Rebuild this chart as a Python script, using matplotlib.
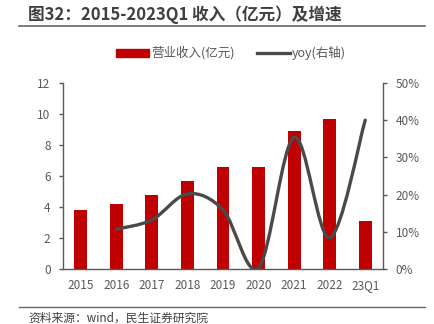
import matplotlib
matplotlib.use("Agg")
import matplotlib.pyplot as plt
import numpy as np
from matplotlib.path import Path
from matplotlib.patches import PathPatch
from matplotlib.lines import Line2D
from matplotlib.patches import Patch

plt.rcParams['font.family'] = ['Noto Sans CJK SC', 'DejaVu Sans']

categories = ["2015", "2016", "2017", "2018", "2019", "2020", "2021", "2022", "23Q1"]
revenue = [3.79, 4.19, 4.75, 5.70, 6.58, 6.60, 8.90, 9.65, 3.12]
yoy = [None, 10.7, 13.2, 20.2, 15.9, 0.3, 35.4, 8.4, 40.0]
left_ticks = [0, 2, 4, 6, 8, 10, 12]
right_ticks = [0, 10, 20, 30, 40, 50]

RED = "#C00000"
LINE = "#4A4A4A"
TXT = "#595959"

fig = plt.figure(figsize=(4.34, 3.24), dpi=100)
ax = fig.add_axes([63/434, 1-269/324, 320/434, 186/324])
ax2 = ax.twinx()

x = np.arange(len(categories))
ax.bar(x, revenue, width=0.36, color=RED, zorder=2)
ax.set_ylim(0, 12)
ax.set_yticks(left_ticks)
ax.set_xlim(-0.5, len(categories)-0.5)
ax.set_xticks(x)
ax.set_xticklabels(categories)
ax2.set_ylim(0, 50)
ax2.set_yticks(right_ticks)
ax2.set_yticklabels([f"{v}%" for v in right_ticks])

for a in (ax, ax2):
    a.spines['top'].set_visible(False)
    for s in a.spines.values():
        s.set_color("#595959")
        s.set_linewidth(1.0)
    a.tick_params(colors=TXT, labelsize=8.5, length=3, width=1.0, color="#595959")
ax.tick_params(axis='x', length=0, pad=7)
ax.spines['right'].set_visible(False)
ax2.spines['left'].set_visible(False)
ax2.spines['bottom'].set_visible(False)
ax.tick_params(axis='y', pad=6)
ax2.tick_params(axis='y', pad=6)

# smoothed line (Excel-like cardinal bezier through data points)
pts = [(xi, yi) for xi, yi in zip(x, yoy) if yi is not None]
P = np.array(pts, dtype=float)
verts = [tuple(P[0])]
codes = [Path.MOVETO]
n = len(P)
t = 1/6
for i in range(n-1):
    p0 = P[i-1] if i > 0 else P[i]
    p1 = P[i]
    p2 = P[i+1]
    p3 = P[i+2] if i+2 < n else P[i+1]
    c1 = p1 + (p2 - p0) * t
    c2 = p2 - (p3 - p1) * t
    verts += [tuple(c1), tuple(c2), tuple(p2)]
    codes += [Path.CURVE4]*3
ax2.add_patch(PathPatch(Path(verts, codes), facecolor='none', edgecolor=LINE,
                        lw=2.4, capstyle='round', zorder=3))
ax2.set_zorder(ax.get_zorder()+1)
ax2.patch.set_visible(False)

# legend
handles = [Patch(color=RED), Line2D([0], [0], color=LINE, lw=2.4)]
fig.legend(handles, ["营业收入(亿元)", "yoy(右轴)"], loc='center',
           bbox_to_anchor=(231/434, 1-53/324), ncol=2, frameon=False,
           fontsize=9, labelcolor=TXT, handlelength=2.6, handleheight=0.6,
           columnspacing=1.8, handletextpad=0.2)

# title and rules
fig.text(28/434, 1-15/324, "图32：2015-2023Q1 收入（亿元）及增速", fontsize=12,
         fontweight='bold', color="#404040", va='center', ha='left')
fig.add_artist(Line2D([19/434, 425/434], [1-26/324, 1-26/324], color="#666666", lw=1.2))
fig.add_artist(Line2D([19/434, 425/434], [1-306.5/324, 1-306.5/324], color="#666666", lw=1.0))
fig.text(28/434, 1-318/324, "资料来源：wind，民生证券研究院", fontsize=8.5,
         color="#404040", va='center', ha='left')

fig.savefig("out.png", dpi=100)
